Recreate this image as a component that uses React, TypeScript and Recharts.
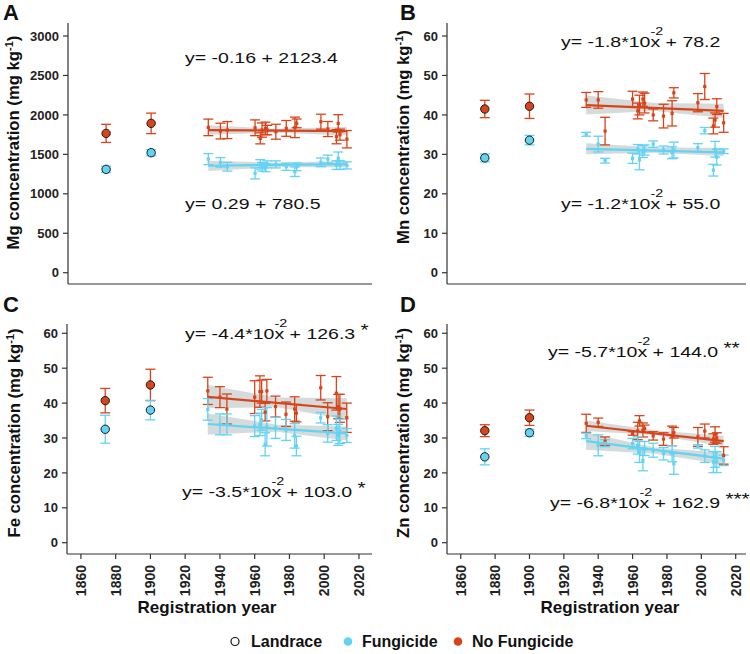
import React from 'react';
import { ComposedChart, Scatter, Line, Area, XAxis, YAxis, ErrorBar } from 'recharts';

const FONT = '"Liberation Sans", Arial, Helvetica, sans-serif';
const ORANGE = '#d8441a';
const CYAN = '#62d3f3';
const GREY = '#b3bbbb';
const AXIS = '#333333';

const years = [1933, 1940, 1944, 1960, 1963, 1964, 1966, 1967, 1972, 1978, 1983, 1984, 1998, 2002, 2007, 2008, 2009, 2013];
const landraceYears = [1874, 1900];
const xTicks = [1860, 1880, 1900, 1920, 1940, 1960, 1980, 2000, 2020];
const mgTicks = [0, 500, 1000, 1500, 2000, 2500, 3000];
const microTicks = [0, 10, 20, 30, 40, 50, 60];

// Mg
const mgNoFung = [1842, 1795, 1808, 1837, 1703, 1808, 1829, 1808, 1787, 1829, 1842, 1893, 1914, 1821, 1724, 1893, 1750, 1692];
const mgNoFungErr = [105, 100, 108, 100, 70, 90, 80, 60, 95, 100, 130, 55, 95, 95, 90, 110, 70, 110];
const mgFung = [1440, 1399, 1343, 1259, 1373, 1343, 1330, 1373, 1373, 1343, 1280, 1343, 1399, 1440, 1364, 1450, 1364, 1360];
const mgFungErr = [70, 60, 55, 70, 60, 55, 50, 45, 45, 45, 60, 50, 55, 50, 55, 80, 55, 45];
const mgLandNoFung = [1766, 1893];
const mgLandNoFungErr = [115, 130];
const mgLandFung = [1310, 1521];
const mgLandFungErr = [40, 40];
const mgLineNoFung = [1808, 1795];
const mgLineFung = [1356, 1377];
const mgBandNoFung = [[1750, 1868], [1775, 1825], [1740, 1850]];
const mgBandFung = [[1290, 1420], [1340, 1395], [1335, 1420]];

// Mn
const mnNoFung = [43.8, 43.8, 35.9, 44.0, 41.0, 42.5, 44.0, 43.0, 40.0, 39.7, 40.4, 45.6, 43.1, 47.2, 37.2, 38.7, 42.1, 38.0];
const mnNoFungErr = [1.9, 2.1, 3.5, 2, 2, 2.5, 1.8, 2.5, 1.5, 3, 3.2, 1.3, 2.3, 3.3, 2, 1.8, 2, 2.4];
const mnFung = [35.1, 32.6, 28.4, 29.0, 31.3, 28.6, 30.7, 31.1, 32.6, 31.1, 30.4, 31.1, 31.7, 36.0, 26.0, 31.3, 29.3, 30.8];
const mnFungErr = [0.5, 2, 0.6, 1.3, 1.2, 2.5, 1.5, 1.3, 0.8, 1, 1.5, 2, 1, 0.8, 1.5, 2, 2, 0.6];
const mnLandNoFung = [41.5, 42.2];
const mnLandNoFungErr = [2.2, 3.1];
const mnLandFung = [29.1, 33.6];
const mnLandFungErr = [1, 1.2];
const mnLineNoFung = [42.5, 41.0];
const mnLineFung = [31.4, 30.5];
const mnBandNoFung = [[40.1, 44.9], [41.0, 43.0], [39.2, 42.8]];
const mnBandFung = [[30.0, 32.8], [30.4, 31.8], [29.6, 31.6]];

// Fe
const feNoFung = [43.5, 41.7, 38.3, 41.7, 43.3, 43.3, 37.4, 43.5, 39.0, 36.8, 38.3, 37.1, 44.4, 36.1, 42.8, 39.0, 38.5, 35.8];
const feNoFungErr = [3.9, 3, 4.3, 4.7, 4.5, 3.3, 2.5, 3.3, 3, 3.5, 3.5, 2.5, 3.5, 4, 4.8, 3.5, 4, 4.2];
const feFung = [38.2, 33.9, 33.9, 33.4, 33.9, 35.2, 28.2, 33.2, 32.9, 32.3, 30.6, 27.7, 35.8, 31.3, 32.8, 30.9, 31.9, 30.7];
const feFungErr = [3.1, 3, 3, 3, 3.2, 3, 3.3, 5.5, 3, 3, 3.5, 2.8, 1.5, 2.5, 3.5, 3, 3.5, 2];
const feLandNoFung = [40.7, 45.2];
const feLandNoFungErr = [3.5, 4.5];
const feLandFung = [32.5, 38.0];
const feLandFungErr = [4, 2.8];
const feLineNoFung = [41.8, 38.3];
const feLineFung = [34.0, 31.3];
const feBandNoFung = [[38.5, 45.2], [38.8, 41.6], [35.2, 41.4]];
const feBandFung = [[31.0, 37.0], [31.8, 33.8], [29.3, 33.3]];

// Zn
const znNoFung = [34.2, 34.5, 29.1, 31.3, 32.0, 34.9, 32.3, 32.7, 30.6, 29.7, 30.6, 31.5, 30.3, 32.0, 29.7, 31.0, 30.0, 25.0];
const znNoFungErr = [2.6, 1.2, 1.2, 0.5, 2.5, 1.5, 2, 1, 1.2, 1.8, 2.8, 1.5, 2.7, 2, 1.5, 2.2, 1.5, 2.5];
const znFung = [30.6, 27.9, 28.5, 28.4, 27.9, 26.0, 23.6, 27.0, 26.5, 25.5, 25.5, 22.6, 27.6, 24.8, 23.1, 24.6, 23.1, 23.6];
const znFungErr = [0.8, 3, 1, 1.5, 2.5, 3, 3, 2, 2, 1.8, 2.3, 3, 0.5, 1.8, 3, 3, 3, 1.5];
const znLandNoFung = [32.1, 35.8];
const znLandNoFungErr = [1.7, 2.2];
const znLandFung = [24.6, 31.5];
const znLandFungErr = [2.3, 1];
const znLineNoFung = [33.5, 29.1];
const znLineFung = [29.1, 24.1];
const znBandNoFung = [[32.0, 35.0], [30.8, 32.2], [27.6, 30.6]];
const znBandFung = [[26.6, 31.6], [25.5, 27.3], [22.4, 25.8]];

const lineYears = [1933, 2013];
const bandYears = [1933, 1973, 2013];

const pts = (xs: number[], ys: number[], es: number[]) => xs.map((x, i) => ({ x, y: ys[i], e: es[i] }));
const lineData = (ys: number[]) => lineYears.map((x, i) => ({ x, y: ys[i] }));
const bandData = (rs: number[][]) => bandYears.map((x, i) => ({ x, r: rs[i] }));

const squareShape = (color: string) => (p: any) => (
  <rect x={p.cx - 1.6} y={p.cy - 1.6} width={3.2} height={3.2} fill={color} />
);
const circleShape = (color: string) => (p: any) => (
  <circle cx={p.cx} cy={p.cy} r={4.2} fill={color} stroke="#1a1a1a" strokeWidth={1} />
);

const RotTick = (props: any) => {
  const { x, y, payload } = props;
  return (
    <text transform={`translate(${x + 5},${y + 4}) rotate(-90)`} textAnchor="end" fontFamily={FONT} fontWeight={700} fontSize={14} fill="#222">
      {payload.value}
    </text>
  );
};

type PanelProps = {
  left: number; top: number; height: number; bottomPanel: boolean; yAxisWidth: number; marginTop: number; marginRight: number;
  xDomain: number[]; yDomain: number[]; yTicks: number[];
  noFung: number[]; noFungErr: number[]; fung: number[]; fungErr: number[];
  landNoFung: number[]; landNoFungErr: number[]; landFung: number[]; landFungErr: number[];
  lineNoFung: number[]; lineFung: number[]; bandNoFung: number[][]; bandFung: number[][];
};

const Panel = (p: PanelProps) => (
  <div style={{ position: 'absolute', left: p.left, top: p.top }}>
    <ComposedChart width={375} height={p.height} margin={{ top: p.marginTop, right: p.marginRight, bottom: 6, left: 0 }}>
      <XAxis type="number" dataKey="x" domain={p.xDomain} ticks={xTicks} allowDataOverflow interval={0}
        height={p.bottomPanel ? 60 : 10} tickSize={5} tickMargin={2}
        axisLine={{ stroke: AXIS, strokeWidth: 1.2 }} tickLine={{ stroke: AXIS, strokeWidth: 1.2 }}
        tick={p.bottomPanel ? <RotTick /> : false} />
      <YAxis type="number" domain={p.yDomain} ticks={p.yTicks} allowDataOverflow interval={0} width={p.yAxisWidth}
        tickSize={5} tickMargin={4}
        axisLine={{ stroke: AXIS, strokeWidth: 1.2 }} tickLine={{ stroke: AXIS, strokeWidth: 1.2 }}
        tick={{ fontFamily: FONT, fontWeight: 700, fontSize: 13, fill: '#222' }} />
      <Scatter data={pts(years, p.noFung, p.noFungErr)} dataKey="y" shape={squareShape(ORANGE)} isAnimationActive={false}>
        <ErrorBar dataKey="e" direction="y" width={5} stroke={ORANGE} strokeWidth={1.3} />
      </Scatter>
      <Scatter data={pts(years, p.fung, p.fungErr)} dataKey="y" shape={squareShape(CYAN)} isAnimationActive={false}>
        <ErrorBar dataKey="e" direction="y" width={5} stroke={CYAN} strokeWidth={1.3} />
      </Scatter>
      <Scatter data={pts(landraceYears, p.landNoFung, p.landNoFungErr)} dataKey="y" shape={circleShape(ORANGE)} isAnimationActive={false}>
        <ErrorBar dataKey="e" direction="y" width={5} stroke={ORANGE} strokeWidth={1.3} />
      </Scatter>
      <Scatter data={pts(landraceYears, p.landFung, p.landFungErr)} dataKey="y" shape={circleShape(CYAN)} isAnimationActive={false}>
        <ErrorBar dataKey="e" direction="y" width={5} stroke={CYAN} strokeWidth={1.3} />
      </Scatter>
      <Area data={bandData(p.bandNoFung)} dataKey="r" type="linear" stroke="none" fill={GREY} fillOpacity={0.55} dot={false} activeDot={false} isAnimationActive={false} />
      <Area data={bandData(p.bandFung)} dataKey="r" type="linear" stroke="none" fill={GREY} fillOpacity={0.55} dot={false} activeDot={false} isAnimationActive={false} />
      <Line data={lineData(p.lineNoFung)} dataKey="y" type="linear" stroke={ORANGE} strokeWidth={2.2} dot={false} activeDot={false} isAnimationActive={false} />
      <Line data={lineData(p.lineFung)} dataKey="y" type="linear" stroke={CYAN} strokeWidth={2.2} dot={false} activeDot={false} isAnimationActive={false} />
    </ComposedChart>
  </div>
);

const Eq = ({ left, baseline, pre, sup, post, stars }: { left: number; baseline: number; pre: string; sup?: string; post?: string; stars?: string }) => (
  <div style={{ position: 'absolute', left, top: baseline - 12.7, fontFamily: FONT, fontSize: 15, lineHeight: '15px', color: '#111', transform: 'scaleX(1.3)', transformOrigin: '0 0', whiteSpace: 'nowrap' }}>
    {pre}
    {sup ? (
      <span style={{ position: 'relative', display: 'inline-block' }}>
        x
        <span style={{ position: 'absolute', left: 0, top: -9, fontSize: 11, lineHeight: '12px' }}>{sup}</span>
      </span>
    ) : null}
    {post}
    {stars ? <span style={{ position: 'relative', top: -3, fontSize: 16, marginLeft: 4 }}>{stars}</span> : null}
  </div>
);

const YLabel = ({ x, y, el }: { x: number; y: number; el: string }) => (
  <text transform={`translate(${x},${y}) rotate(-90)`} textAnchor="middle" fontFamily={FONT} fontWeight={700} fontSize={16.7} fill="#111">
    {el} concentration (mg kg<tspan dy={-6} fontSize={11}>-1</tspan><tspan dy={6}>)</tspan>
  </text>
);

export default function App() {
  const topDomainX = [1852, 2027.5];
  const rightDomainX = [1852, 2026];
  const mgDomain = [-143, 3165];
  const topMicro = [-2.86, 63.3];
  const botMicro = [-3.24, 62.66];
  return (
    <div style={{ position: 'absolute', left: 0, top: 0, width: 750, height: 654, background: '#fff', overflow: 'hidden' }}>
      <Panel left={0} top={0} height={300} bottomPanel={false} yAxisWidth={68} marginTop={23} marginRight={3}
        xDomain={topDomainX} yDomain={mgDomain} yTicks={mgTicks}
        noFung={mgNoFung} noFungErr={mgNoFungErr} fung={mgFung} fungErr={mgFungErr}
        landNoFung={mgLandNoFung} landNoFungErr={mgLandNoFungErr} landFung={mgLandFung} landFungErr={mgLandFungErr}
        lineNoFung={mgLineNoFung} lineFung={mgLineFung} bandNoFung={mgBandNoFung} bandFung={mgBandFung} />
      <Panel left={375} top={0} height={300} bottomPanel={false} yAxisWidth={72} marginTop={23} marginRight={4}
        xDomain={rightDomainX} yDomain={topMicro} yTicks={microTicks}
        noFung={mnNoFung} noFungErr={mnNoFungErr} fung={mnFung} fungErr={mnFungErr}
        landNoFung={mnLandNoFung} landNoFungErr={mnLandNoFungErr} landFung={mnLandFung} landFungErr={mnLandFungErr}
        lineNoFung={mnLineNoFung} lineFung={mnLineFung} bandNoFung={mnBandNoFung} bandFung={mnBandFung} />
      <Panel left={0} top={300} height={320} bottomPanel={true} yAxisWidth={67} marginTop={24} marginRight={3}
        xDomain={topDomainX} yDomain={botMicro} yTicks={microTicks}
        noFung={feNoFung} noFungErr={feNoFungErr} fung={feFung} fungErr={feFungErr}
        landNoFung={feLandNoFung} landNoFungErr={feLandNoFungErr} landFung={feLandFung} landFungErr={feLandFungErr}
        lineNoFung={feLineNoFung} lineFung={feLineFung} bandNoFung={feBandNoFung} bandFung={feBandFung} />
      <Panel left={375} top={300} height={320} bottomPanel={true} yAxisWidth={72} marginTop={24} marginRight={4}
        xDomain={rightDomainX} yDomain={botMicro} yTicks={microTicks}
        noFung={znNoFung} noFungErr={znNoFungErr} fung={znFung} fungErr={znFungErr}
        landNoFung={znLandNoFung} landNoFungErr={znLandNoFungErr} landFung={znLandFung} landFungErr={znLandFungErr}
        lineNoFung={znLineNoFung} lineFung={znLineFung} bandNoFung={znBandNoFung} bandFung={znBandFung} />

      <svg width={750} height={654} style={{ position: 'absolute', left: 0, top: 0, pointerEvents: 'none' }}>
        <g fontFamily={FONT} fontWeight={700} fill="#111">
          <text x={3} y={20} fontSize={22}>A</text>
          <text x={400} y={20} fontSize={22}>B</text>
          <text x={3} y={312} fontSize={22}>C</text>
          <text x={400} y={312} fontSize={22}>D</text>
          <text x={207} y={613} fontSize={17} textAnchor="middle">Registration year</text>
          <text x={610} y={613} fontSize={17} textAnchor="middle">Registration year</text>
        </g>
        <YLabel x={19} y={142.5} el="Mg" />
        <YLabel x={408.5} y={137} el="Mn" />
        <YLabel x={19.5} y={433} el="Fe" />
        <YLabel x={408.5} y={433} el="Zn" />
        <g fontFamily={FONT} fontWeight={700} fontSize={16} fill="#111">
          <circle cx={235} cy={641.5} r={4} fill="#fff" stroke="#111" strokeWidth={1.2} />
          <text x={251} y={647.3}>Landrace</text>
          <circle cx={348} cy={641.5} r={4.3} fill={CYAN} />
          <text x={362} y={647.3}>Fungicide</text>
          <circle cx={458} cy={641.5} r={4.3} fill={ORANGE} />
          <text x={472} y={647.3}>No Fungicide</text>
        </g>
      </svg>

      <Eq left={185} baseline={62.3} pre="y= -0.16 + 2123.4" />
      <Eq left={185} baseline={209} pre="y= 0.29 + 780.5" />
      <Eq left={561} baseline={46.7} pre="y= -1.8*10" sup="-2" post=" + 78.2" />
      <Eq left={561} baseline={209} pre="y= -1.2*10" sup="-2" post=" + 55.0" />
      <Eq left={185} baseline={339} pre="y= -4.4*10" sup="-2" post=" + 126.3" stars="*" />
      <Eq left={182} baseline={497} pre="y= -3.5*10" sup="-2" post=" + 103.0" stars="*" />
      <Eq left={548} baseline={356.7} pre="y= -5.7*10" sup="-2" post=" + 144.0" stars="**" />
      <Eq left={550} baseline={508} pre="y= -6.8*10" sup="-2" post=" + 162.9" stars="***" />
    </div>
  );
}
